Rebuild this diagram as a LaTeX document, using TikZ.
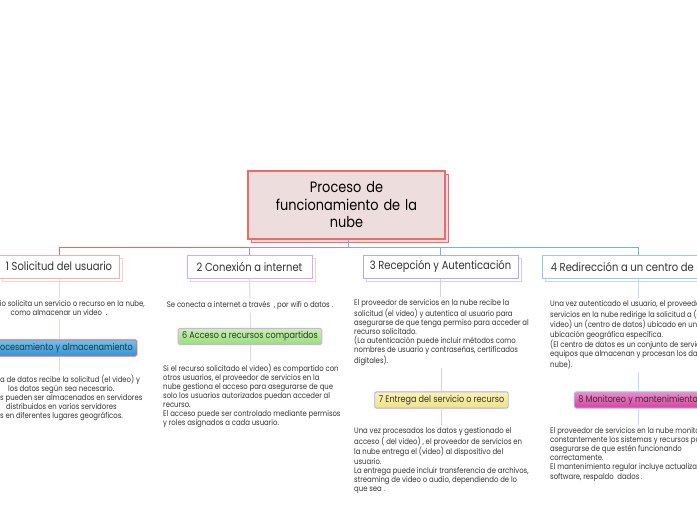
\documentclass[tikz,border=0pt]{standalone}
\usepackage{fontspec}
\setmainfont[FakeStretch=0.86]{Poppins}
\usetikzlibrary{shadows}
\definecolor{ink}{HTML}{333333}
\definecolor{rootfill}{HTML}{EEDDDD}
\definecolor{rootdraw}{HTML}{F06A6A}
\definecolor{cA}{HTML}{F06565}
\definecolor{cAl}{HTML}{F6AEAE}
\definecolor{cAs}{HTML}{FAD2D2}
\definecolor{cB}{HTML}{C07EE2}
\definecolor{cBl}{HTML}{D9A8EE}
\definecolor{cBs}{HTML}{E8CDF5}
\definecolor{cC}{HTML}{72B0F0}
\definecolor{cCl}{HTML}{B6A8F5}
\definecolor{cCs}{HTML}{D6CEFA}
\definecolor{cDl}{HTML}{98C8F5}
\definecolor{cDs}{HTML}{BCDCF8}
\definecolor{blueT}{HTML}{6CC4F2}
\definecolor{blueB}{HTML}{2E92D8}
\definecolor{greenT}{HTML}{C4F4AE}
\definecolor{greenB}{HTML}{98DE7C}
\definecolor{yelT}{HTML}{FAF4B4}
\definecolor{yelB}{HTML}{EEE282}
\definecolor{magT}{HTML}{F08ACE}
\definecolor{magB}{HTML}{D8409E}
\tikzset{
  rootbox/.style={draw=rootdraw, fill=rootfill, line width=1.3pt, minimum width=197pt, minimum height=68pt,
    text width=190pt, align=center, font=\fontsize{15}{17.5}\selectfont, text=black,
    copy shadow={shadow xshift=3.5pt, shadow yshift=-3.5pt, draw=rootdraw, fill=rootfill}},
  branchbox/.style={fill=white, line width=1pt, minimum height=23pt, inner xsep=6pt,
    font=\fontsize{11.6}{13}\selectfont, text=ink},
  subbox/.style={line width=0.9pt, minimum height=16pt, rounded corners=1.5pt,
    font=\fontsize{9.4}{10}\selectfont, text=ink, inner xsep=4pt},
  bodytext/.style={font=\fontsize{8}{9.05}\selectfont, text=ink, inner sep=3pt},
  stem/.style={line width=1pt},
  conn/.style={line width=1pt}
}
\begin{document}
\begin{tikzpicture}[x=1pt,y=-1pt]
\useasboundingbox (0,0) rectangle (697,520);
\clip (0,0) rectangle (697,520);
\fill[white] (0,0) rectangle (697,520);

% root
\node[rootbox] (root) at (346.5,205) {Proceso de\\funcionamiento de la\\nube};
\coordinate (j) at (348,247);

% branches
\node[branchbox, draw=cAl, minimum width=120pt,
  copy shadow={shadow xshift=3pt, shadow yshift=-3pt, draw=cAs, fill=white}] (b1) at (59,266.5) {1 Solicitud del usuario};
\node[branchbox, draw=cBl, minimum width=125pt,
  copy shadow={shadow xshift=3pt, shadow yshift=-3pt, draw=cBs, fill=white}] (b2) at (249.5,266.5) {2 Conexión a internet};
\node[branchbox, draw=cCl, minimum width=155pt,
  copy shadow={shadow xshift=3pt, shadow yshift=-3pt, draw=cCs, fill=white}] (b3) at (440.5,266.5) {3 Recepción y Autenticación};
\node[branchbox, draw=cDl, minimum width=192pt,
  copy shadow={shadow xshift=3pt, shadow yshift=-3pt, draw=cDs, fill=white}] (b4) at (638,266.5) {4 Redirección a un centro de datos};

% connectors from root
\draw[conn, cA] (j) -| (b1.north);
\draw[conn, cB] (j) -| (b2.north);
\draw[conn, cC] (root.south -| j) -- (j) -| (b3.north);
\draw[conn, cC] (j) -| (b4.north);

% branch 1
\node[bodytext, anchor=north, align=center] (t1) at (59,297.5)
  {El usuario solicita un servicio o recurso en la nube,\\como almacenar un video\ \ .};
\node[subbox, draw=cA, top color=blueT, bottom color=blueB] (s5) at (59,348)
  {5 Procesamiento y almacenamiento};
\node[bodytext, anchor=north west, align=left] (t5) at (-3,371.5)
  {a de datos recibe la solicitud (el video) y\\
   \hspace*{8pt}los datos según sea necesario.\\
   s pueden ser almacenados en servidores\\
   \hspace*{6pt}distribuidos en varios servidores\\
   s en diferentes lugares geográficos.};
\draw[stem, cAs] (b1.south) -- (t1.north);
\draw[stem, cAs] (t1.south) -- (s5.north);
\draw[stem, cAs] (s5.south) -- (t5.north -| s5.south);

% branch 2
\node[bodytext, anchor=north, align=center] (t2) at (250,298.5)
  {Se conecta a internet a través\ \ , por wifi o datos .};
\node[subbox, draw=cBl, top color=greenT, bottom color=greenB] (s6) at (250,336.5)
  {6 Acceso a recursos compartidos};
\node[bodytext, anchor=north west, align=left] (t6) at (160,360.5)
  {Si el recurso solicitado el video) es compartido con\\
   otros usuarios, el proveedor de servicios en la\\
   nube gestiona el acceso para asegurarse de que\\
   solo los usuarios autorizados puedan acceder al\\
   recurso.\\
   El acceso puede ser controlado mediante permisos\\
   y roles asignados a cada usuario.};
\draw[stem, cBs] (b2.south) -- (t2.north);
\draw[stem, cBs] (t2.south) -- (s6.north);
\draw[stem, cBs] (s6.south) -- (t6.north -| s6.south);

% branch 3
\node[bodytext, anchor=north west, align=left] (t3) at (351,296.5)
  {El proveedor de servicios en la nube recibe la\\
   solicitud (el video) y autentica al usuario para\\
   asegurarse de que tenga permiso para acceder al\\
   recurso solicitado.\\
   (La autenticación puede incluir métodos como\\
   nombres de usuario y contraseñas, certificados\\
   digitales).};
\node[subbox, draw=cCl, top color=yelT, bottom color=yelB] (s7) at (441.5,400)
  {7 Entrega del servicio o recurso};
\node[bodytext, anchor=north west, align=left] (t7) at (351,424.5)
  {Una vez procesados los datos y gestionado el\\
   acceso ( del video) , el proveedor de servicios en\\
   la nube entrega el (video) al dispositivo del\\
   usuario.\\
   La entrega puede incluir transferencia de archivos,\\
   streaming de video o audio, dependiendo de lo\\
   que sea .};
\draw[stem, cCs] (b3.south) -- (t3.north -| b3.south);
\draw[stem, cCs] (t3.south -| s7.north) -- (s7.north);
\draw[stem, cCs] (s7.south) -- (t7.north -| s7.south);

% branch 4
\node[bodytext, anchor=north west, align=left] (t4) at (547,297.5)
  {Una vez autenticado el usuario, el proveedor de\\
   servicios en la nube redirige la solicitud a (el\\
   video) un (centro de datos) ubicado en una\\
   ubicación geográfica específica.\\
   (El centro de datos es un conjunto de servicios y\\
   equipos que almacenan y procesan los datos en la\\
   nube).};
\node[subbox, draw=cDl, top color=magT, bottom color=magB] (s8) at (638,400)
  {8 Monitoreo y mantenimiento};
\node[bodytext, anchor=north west, align=left] (t8) at (547,424.5)
  {El proveedor de servicios en la nube monitorea\\
   constantemente los sistemas y recursos para\\
   asegurarse de que estén funcionando\\
   correctamente.\\
   El mantenimiento regular incluye actualizaciones de\\
   software, respaldo\ \ dados .};
\draw[stem, cDs] (b4.south) -- (t4.north -| b4.south);
\draw[stem, cDs] (t4.south -| s8.north) -- (s8.north);
\draw[stem, cDs] (s8.south) -- (t8.north -| s8.south);
\end{tikzpicture}
\end{document}
